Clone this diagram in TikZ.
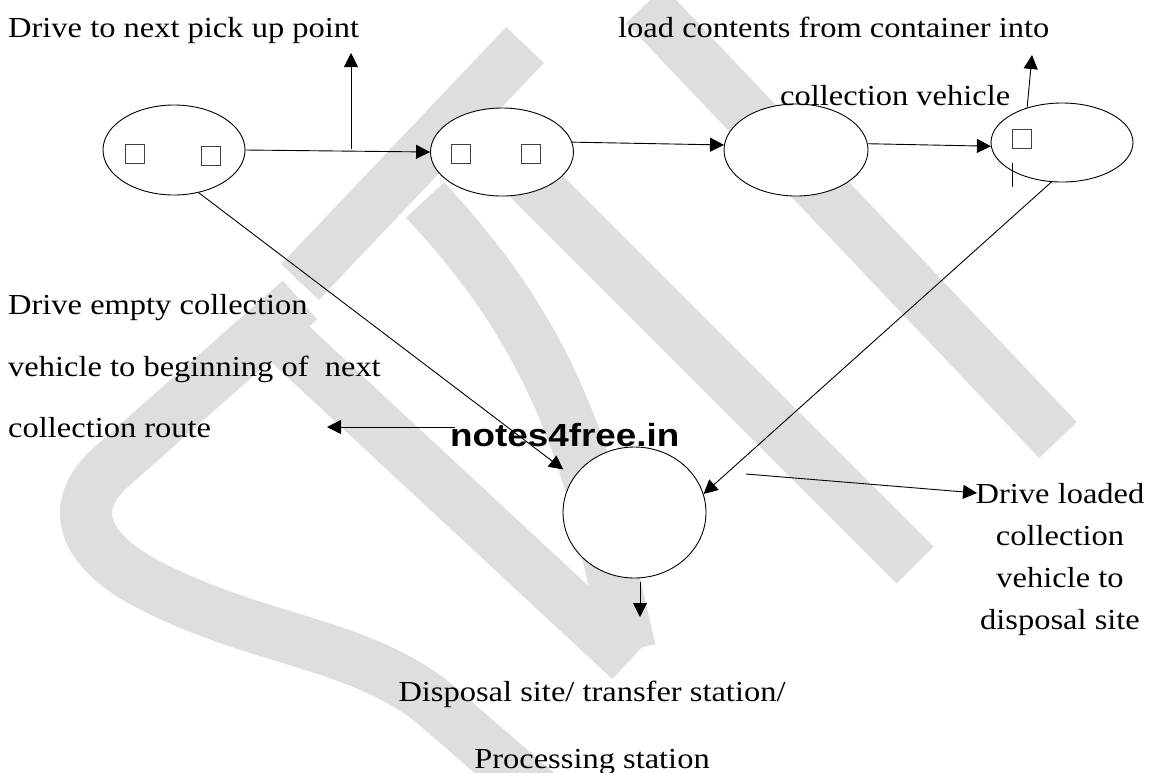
\documentclass[tikz,border=0pt]{standalone}
\usepackage{graphicx}
\usepackage{fontspec}
\setmainfont{Liberation Serif}
\newfontfamily\wmfont{Liberation Sans}
\usetikzlibrary{arrows.meta,shapes.geometric}
\newcommand{\tx}[1]{\scalebox{1.12}[1]{#1}}
\definecolor{wmgrey}{RGB}{222,222,222}
\begin{document}
\begin{tikzpicture}[x=1pt,y=-1pt,
  ell/.style={draw, fill=white, ellipse, line width=0.9pt, inner sep=0pt},
  sq/.style={draw=black!75, line width=0.9pt, minimum size=19pt, inner sep=0pt},
  arr/.style={line width=0.9pt, -{Triangle[length=14pt,width=14pt]}},
  ln/.style={line width=0.9pt},
  band/.style={draw=wmgrey, line width=52pt, line cap=butt, line join=round},
  lbl/.style={inner sep=0pt, font=\fontsize{29}{32}\selectfont},
  wmtext/.style={inner sep=0pt, font=\wmfont\bfseries\fontsize{32}{36}\selectfont}]
\useasboundingbox (0,0) rectangle (1150,772);
\fill[white] (0,0) rectangle (1150,772);

% watermark bands
\draw[band] (451,101) -- (915,565);
\draw[band] (645,5) -- (1058,440);
\draw[band] (525,45) -- (300,282);
\draw[band] (425,200) .. controls (490,270) and (560,360) .. (600,520) -- (630,650);
\draw[band] (262,318) -- (630,660);
\draw[band] (300,300) -- (110,468) .. controls (70,505) and (80,545) .. (140,580)
  .. controls (250,640) and (350,640) .. (430,700) -- (540,795);

% ellipses
\node[ell, minimum width=142pt, minimum height=90pt] (e1) at (174,150) {};
\node[ell, minimum width=143pt, minimum height=88pt] (e2) at (502,152) {};
\node[ell, minimum width=144pt, minimum height=92pt] (e3) at (796,150) {};
\node[ell, minimum width=142pt, minimum height=79pt] (e4) at (1062,142.5) {};
\node[ell, minimum width=143pt, minimum height=131pt] (e5) at (634.5,512.5) {};

% squares
\node[sq] (s1) at (134.5,153.5) {};
\node[sq] (s2) at (211,156) {};
\node[sq] (s3) at (461,153.5) {};
\node[sq] (s4) at (531,153.5) {};
\node[sq] (s5) at (1021.5,139) {};

% free ends
\coordinate (j1) at (351,149);
\coordinate (t1) at (351,53);
\coordinate (t4) at (1032,55);
\coordinate (m1) at (1012,163);
\coordinate (m2) at (1012,187);
\coordinate (l1) at (455,427);
\coordinate (l2) at (327,427);
\coordinate (r1) at (746,474);
\coordinate (r2) at (977,493);
\coordinate (d1) at (640,582);
\coordinate (d2) at (640,617);

% connectors
\draw[arr] (e1.east) -- (e2.west);
\draw[arr] (j1) -- (t1);
\draw[arr] (e2.8) -- (e3.176);
\draw[arr] (e3.5) -- (e4.183);
\draw[arr] (e4.135) -- (t4);
\draw[ln] (m1) -- (m2);
\draw[arr] (e4.255) -- (e5.15);
\draw[arr, shorten >=13pt] (e1.-60) -- (e5.150);
\draw[arr] (l1) -- (l2);
\draw[arr] (r1) -- (r2);
\draw[arr] (d1) -- (d2);

% labels
\node[lbl, anchor=base west] (a1) at (8,37) {\tx{Drive to next pick up point}};
\node[lbl, anchor=base west] (a2) at (618,37) {\tx{load contents from container into}};
\node[lbl, anchor=base west] (a3) at (780,105) {\tx{collection vehicle}};
\node[lbl, anchor=base west] (b1) at (8,314) {\tx{Drive empty collection}};
\node[lbl, anchor=base west] (b2) at (8,376) {\tx{vehicle to beginning of\ \ next}};
\node[lbl, anchor=base west] (b3) at (8,437) {\tx{collection route}};
\node[lbl, anchor=base] (c1) at (1060,503) {\tx{Drive loaded}};
\node[lbl, anchor=base] (c2) at (1060,545) {\tx{collection}};
\node[lbl, anchor=base] (c3) at (1060,587) {\tx{vehicle to}};
\node[lbl, anchor=base] (c4) at (1060,629) {\tx{disposal site}};
\node[lbl, anchor=base] (d1t) at (592,701) {\tx{Disposal site/ transfer station/}};
\node[lbl, anchor=base] (d2t) at (592,768) {\tx{Processing station}};
\node[wmtext, anchor=base west] (wm) at (450,446) {\scalebox{1.15}[1]{notes4free.in}};
\end{tikzpicture}
\end{document}
